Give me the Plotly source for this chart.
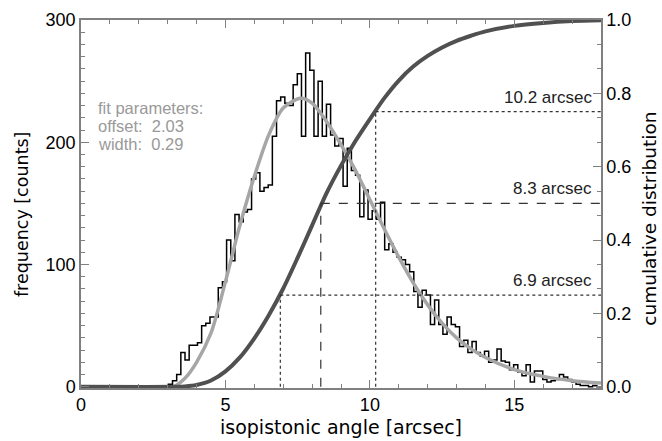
import numpy as np
import plotly.graph_objects as go

# ---------------- data ----------------
bin_width = 0.144
hist_counts = [0] * 21 + [
    2, 5, 10, 28, 22, 34, 34, 36, 50, 52,          # 21-30
    57, 57, 81, 86, 120, 103, 141, 135, 143, 145,  # 31-40
    170, 175, 160, 163, 165, 205, 234, 237, 232, 230,  # 41-50
    247, 256, 205, 273, 259, 205, 250, 205, 231, 206,  # 51-60
    197, 203, 164, 195, 177, 173, 139, 161, 137, 144,  # 61-70
    137, 151, 112, 117, 110, 106, 104, 100, 94, 78,    # 71-80
    65, 79, 75, 51, 71, 51, 43, 57, 51, 49,            # 81-90
    33, 38, 28, 37, 28, 25, 29, 20, 22, 31,            # 91-100
    21, 20, 14, 18, 12, 9, 18, 4, 13, 13,              # 101-110
    6, 4, 5, 6, 10, 8, 6, 4, 2, 1,                     # 111-120
    1, 0, 1, 0,                                        # 121-124
]

fit_x = [0, 3.2, 3.6, 4.0, 4.5, 5.0, 5.5, 6.0, 6.5, 7.0, 7.6, 8.0, 8.5, 9.0, 9.5,
         10.0, 10.5, 11.0, 11.5, 12.0, 12.5, 13.0, 13.5, 14.0, 15.0, 16.0, 17.0, 18.0]
fit_y = [0, 0, 7, 20, 44, 86, 132, 172, 206, 228, 236, 232, 217, 198, 177,
         153, 129, 106, 85, 67, 52, 40, 31, 24, 14, 8.5, 5, 3]

cdf_x = [0, 3.3, 3.6, 4.0, 4.5, 5.0, 5.5, 6.0, 6.5, 7.0, 7.5, 8.0, 8.5, 9.0, 9.5,
         10.0, 10.5, 11.0, 11.5, 12.0, 12.5, 13.0, 13.5, 14.0, 15.0, 16.0, 17.0, 18.0]
cdf_y = [0, 0, 0.001, 0.005, 0.017, 0.042, 0.08, 0.132, 0.195, 0.268, 0.352, 0.44, 0.528, 0.603, 0.67,
         0.73, 0.787, 0.835, 0.873, 0.902, 0.925, 0.943, 0.957, 0.969, 0.984, 0.992, 0.997, 0.999]

quant_levels = [0.25, 0.5, 0.75]
quant_angles = [6.9, 8.3, 10.2]
quant_labels = ["6.9 arcsec", "8.3 arcsec", "10.2 arcsec"]
quant_dash = ["dot", "dash", "dot"]

fit_text = ["fit parameters:", "offset:  2.03", "width:  0.29"]

x_max = 18.0
# ---------------------------------------

edges = np.arange(len(hist_counts) + 1) * bin_width
hx = list(edges[:-1]) + [edges[-1]]
hy = list(hist_counts) + [hist_counts[-1]]

FONT = "Liberation Sans"
TFONT = "DejaVu Sans"
fig = go.Figure()

fig.add_trace(go.Scatter(x=hx, y=hy, mode="lines", line=dict(color="black", width=1.5, shape="hv"),
                         showlegend=False, hoverinfo="skip"))
fig.add_trace(go.Scatter(x=fit_x, y=fit_y, mode="lines",
                         line=dict(color="#a6a6a6", width=3.5, shape="spline", smoothing=0.8),
                         showlegend=False, hoverinfo="skip"))
fig.add_trace(go.Scatter(x=cdf_x, y=cdf_y, yaxis="y2", mode="lines",
                         line=dict(color="#505050", width=4, shape="spline", smoothing=0.8),
                         showlegend=False, hoverinfo="skip"))

for q, a, d in zip(quant_levels, quant_angles, quant_dash):
    fig.add_trace(go.Scatter(x=[a, x_max], y=[q, q], yaxis="y2", mode="lines",
                             line=dict(color="#333333", width=1.2, dash=d),
                             showlegend=False, hoverinfo="skip"))
    fig.add_trace(go.Scatter(x=[a, a], y=[0, q], yaxis="y2", mode="lines",
                             line=dict(color="#333333", width=1.2, dash=d),
                             showlegend=False, hoverinfo="skip"))

annotations = []
for q, lab in zip(quant_levels, quant_labels):
    annotations.append(dict(x=0.987, xref="paper", y=q, yref="y2", text=lab, showarrow=False,
                            xanchor="right", yanchor="bottom", yshift=3,
                            font=dict(family=FONT, size=17, color="#222222")))
for i, t in enumerate(fit_text):
    annotations.append(dict(x=0.029, xref="paper", y=(388 - 100 - 18.5 * i) / 378, yref="paper",
                            text=t, showarrow=False, xanchor="left", yanchor="middle",
                            font=dict(family=FONT, size=16.5, color="#999999")))
annotations.append(dict(x=0.5, xref="paper", y=(388 - 428) / 378, yref="paper",
                        text="isopistonic angle [arcsec]",
                        showarrow=False, xanchor="center", yanchor="middle",
                        font=dict(family=TFONT, size=19, color="black")))
annotations.append(dict(x=(22 - 81) / 520, xref="paper", y=0.47, yref="paper", text="frequency [counts]",
                        showarrow=False, textangle=-90, xanchor="center", yanchor="middle",
                        font=dict(family=TFONT, size=17.5, color="black")))
annotations.append(dict(x=(650 - 81) / 520, xref="paper", y=0.46, yref="paper",
                        text="cumulative distribution",
                        showarrow=False, textangle=-90, xanchor="center", yanchor="middle",
                        font=dict(family=TFONT, size=18.5, color="black")))

axcol = "#808080"
fig.update_layout(
    width=662, height=441,
    margin=dict(l=81, r=61, t=10, b=53),
    paper_bgcolor="white", plot_bgcolor="white",
    font=dict(family=FONT, size=18, color="black"),
    annotations=annotations,
    xaxis=dict(range=[0, x_max], showgrid=False, zeroline=False, showline=True, linecolor=axcol,
               linewidth=1.5, mirror="ticks", ticks="inside", ticklen=8, tickcolor=axcol,
               tickwidth=1, dtick=5, tick0=0,
               minor=dict(ticks="inside", dtick=1, ticklen=4, tickcolor=axcol, tickwidth=1),
               tickfont=dict(family=FONT, size=18, color="black")),
    yaxis=dict(range=[-1, 300], showgrid=False, zeroline=False, showline=True, linecolor=axcol,
               linewidth=1.5, ticks="inside", ticklen=8, tickcolor=axcol, tickwidth=1,
               dtick=100, tick0=0,
               minor=dict(ticks="inside", dtick=10, ticklen=4, tickcolor=axcol, tickwidth=1),
               tickfont=dict(family=FONT, size=18, color="black")),
    yaxis2=dict(range=[-1 / 300, 1.0], overlaying="y", side="right", showgrid=False, zeroline=False,
                showline=True, linecolor=axcol, linewidth=1.5, ticks="inside", ticklen=8,
                tickcolor=axcol, tickwidth=1, dtick=0.2, tick0=0, tickformat=".1f",
                minor=dict(ticks="inside", dtick=0.2 / 3, ticklen=4, tickcolor=axcol, tickwidth=1),
                tickfont=dict(family=FONT, size=18, color="black")),
)

fig.write_html("out.html")
